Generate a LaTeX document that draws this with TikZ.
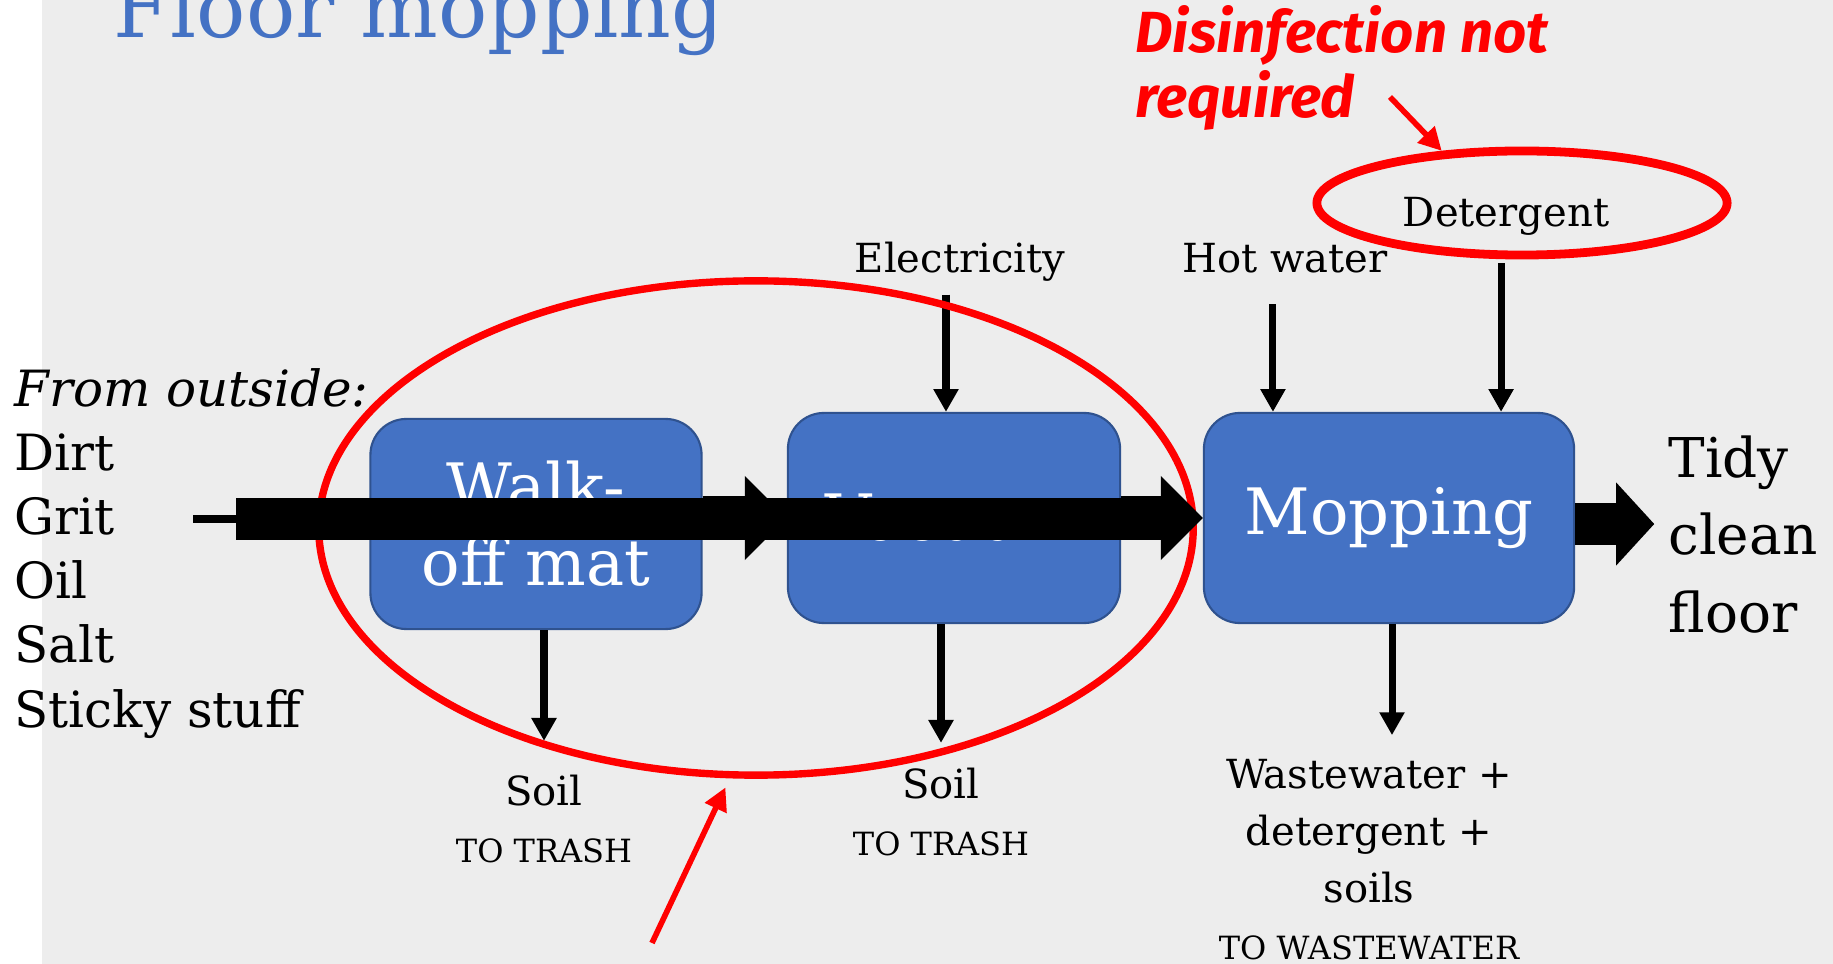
\documentclass[tikz,border=0pt]{standalone}
\usepackage{fontspec}
\setmainfont{DejaVu Serif}
\newfontfamily\notefont{Fira Sans}
\usetikzlibrary{positioning, arrows.meta, shapes.geometric, calc}

\definecolor{boxblue}{HTML}{4472C4}
\definecolor{boxedge}{HTML}{2F528F}
\definecolor{slidegray}{HTML}{EDEDED}
\definecolor{markred}{HTML}{FF0000}
\newcommand{\trashsize}{\fontsize{9.1}{16.2}\selectfont}

\begin{document}
\begin{tikzpicture}[
  x=0.01cm, y=-0.01cm,
  % process boxes
  procbox/.style={draw=boxedge, line width=0.6pt, fill=boxblue, rounded corners=0.36cm, minimum height=2.1cm, text=white, align=center, inner sep=0pt, font=\fontsize{18.2}{21.6}\selectfont},
  % plain labels (anchored on the last line)
  flowlabel/.style={inner sep=0pt, align=center, anchor=base, font=\fontsize{11.4}{16.2}\selectfont},
  biglist/.style={inner sep=0pt, align=left, anchor=base west, font=\fontsize{14.2}{18.2}\selectfont},
  % red rings and pointers
  ring/.style={draw=markred, ellipse, inner sep=0pt},
  pointer/.style={draw=markred, line width=1.6pt, -{Triangle[length=6.5pt,width=6.5pt]}},
  % arrows
  feed/.style={draw, line width=2pt, -{Triangle[length=6.5pt,width=6.8pt]}},
  fatflow/.style={draw, line width=0.44cm, -{Triangle[length=0.42cm,width=0.84cm,line width=0pt]}}
]

  % --- slide background ---
  \useasboundingbox (0,0) rectangle (1833,964);
  \fill[white] (0,0) rectangle (1833,964);
  \fill[slidegray] (42,0) rectangle (1833,964);

  % --- texts ---
  \node[anchor=base west, inner sep=0pt, text=boxblue, font=\fontsize{23.3}{28}\selectfont] (title) at (113,38) {Floor mopping};
  \node[anchor=base west, inner sep=0pt, text=markred, align=left, font=\notefont\bfseries\itshape\fontsize{16.5}{18.5}\selectfont] (note) at (1135,118) {Disinfection not\\required};

  \node[biglist] (inputs) at (14,727) {\textit{From outside:}\\Dirt\\Grit\\Oil\\Salt\\Sticky stuff};
  \node[biglist, font=\fontsize{15.6}{21.9}\selectfont] (tidy) at (1668,632) {Tidy\\clean\\floor};

  \node[flowlabel] (elec) at (960,273) {Electricity};
  \node[flowlabel] (hot) at (1285,273) {Hot water};
  \node[flowlabel] (det) at (1506,227) {Detergent};
  \node[flowlabel] (soil1) at (544,862) {Soil\\{\trashsize TO TRASH}};
  \node[flowlabel] (soil2) at (941,855) {Soil\\{\trashsize TO TRASH}};
  \node[flowlabel] (waste) at (1369,959) {Wastewater +\\detergent +\\soils\\{\trashsize TO WASTEWATER}};

  % --- process boxes ---
  \node[procbox, minimum width=3.31cm] (walk) at (536,524) {Walk-\\off mat};
  \node[procbox, minimum width=3.32cm] (vac) at (954,518) {Vacuum};
  \node[procbox, minimum width=3.70cm] (mop) at (1389,518) {Mopping};

  % --- inputs and outputs ---
  \coordinate (elecin) at ([xshift=-0.08cm]vac.north);
  \coordinate (hotin) at ([xshift=-1.16cm]mop.north);
  \coordinate (detin) at ([xshift=1.12cm]mop.north);
  \coordinate (wastein) at ([xshift=0.03cm]mop.south);
  \draw[feed, shorten <=0.12cm] (elecin |- elec.south) -- (elecin);
  \draw[feed, shorten <=0.3cm] (hotin |- hot.south) -- (hotin);
  \draw[feed, shorten >=0.33cm] (soil1.north |- walk.south) -- (soil1.north);
  \draw[feed, shorten >=0.24cm] (soil2.north |- vac.south) -- (soil2.north);
  \draw[feed, shorten >=0.23cm] (wastein) -- (wastein |- waste.north);

  % --- red marks ---
  \node[ring, line width=2.5pt, minimum width=4.1cm, minimum height=1.04cm] (detring) at (1522,203) {};
  \node[ring, line width=2.1pt, minimum width=8.74cm, minimum height=4.94cm] (bigring) at (756,528) {};
  \draw[feed, shorten <=0.04cm] (detin |- detring.south) -- (detin);
  \coordinate (notetail) at (1390,97);
  \coordinate (ringtail) at (652,943);
  \draw[pointer] (notetail) -- (detring.147);
  \draw[pointer, shorten >=0.1cm] (ringtail) -- (bigring.264);

  % --- main flow ---
  \coordinate (tidyout) at ([yshift=-0.06cm]mop.east);
  \coordinate (tidyin) at ([xshift=0.79cm]tidyout);
  \draw[fatflow] (walk.east |- vac.west) -- (vac.west);
  \draw[fatflow] (vac.east) -- (mop.west);
  \draw[fatflow, line width=0.42cm, -{Triangle[length=0.38cm,width=0.83cm,line width=0pt]}] (tidyout) -- (tidyin);

  \coordinate (inlet) at (193,519);
  \coordinate (barL) at (236,519);
  \coordinate (barR) at (1126,519);
  \draw[line width=2.3pt] (inlet) -- (barL);
  \draw[line width=0.41cm] (barL) -- (barR);

\end{tikzpicture}
\end{document}
